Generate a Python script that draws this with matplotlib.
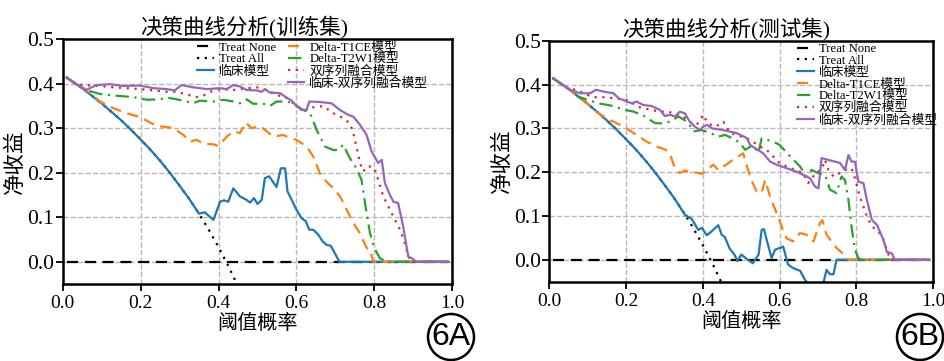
import matplotlib
matplotlib.use("Agg")
import matplotlib.pyplot as plt
from matplotlib.lines import Line2D
from matplotlib.patches import Ellipse

FONT = ['Liberation Serif', 'Noto Sans CJK SC']
plt.rcParams['font.family'] = FONT
plt.rcParams['axes.unicode_minus'] = False

# ---------------- data ----------------
# Treat All / Treat None (same for both panels)
all_x = [0.01, 0.03, 0.05, 0.075, 0.1, 0.125, 0.15, 0.175, 0.2, 0.225, 0.25,
         0.275, 0.3, 0.325, 0.35, 0.375, 0.4, 0.425, 0.45]
all_y = [0.414, 0.402, 0.390, 0.373, 0.356, 0.337, 0.318, 0.297, 0.275, 0.252,
         0.227, 0.200, 0.171, 0.141, 0.108, 0.072, 0.033, -0.009, -0.055]
none_x = [0.01, 0.99]
none_y = [0.0, 0.0]

# training set
tr_clin_x = [0.01, 0.03, 0.05, 0.075, 0.1, 0.125, 0.15, 0.175, 0.2, 0.225, 0.25, 0.275,
             0.3, 0.325, 0.35, 0.365, 0.387, 0.404, 0.414, 0.425, 0.438, 0.455, 0.472,
             0.481, 0.491, 0.50, 0.511, 0.519, 0.53, 0.541, 0.549, 0.56, 0.571, 0.577,
             0.588, 0.60, 0.613, 0.624, 0.633, 0.643, 0.656, 0.667, 0.677, 0.688, 0.695,
             0.703, 0.71, 0.99]
tr_clin_y = [0.414, 0.402, 0.390, 0.373, 0.356, 0.337, 0.318, 0.297, 0.275, 0.252, 0.227,
             0.200, 0.171, 0.141, 0.108, 0.111, 0.094, 0.135, 0.138, 0.135, 0.165, 0.147,
             0.139, 0.133, 0.143, 0.130, 0.139, 0.188, 0.192, 0.178, 0.168, 0.21, 0.21,
             0.158, 0.139, 0.117, 0.098, 0.091, 0.072, 0.072, 0.061, 0.046, 0.038, 0.036,
             0.025, 0.012, 0.0, 0.0]

tr_t1_x = [0.01, 0.03, 0.06, 0.096, 0.13, 0.164, 0.198, 0.216, 0.241, 0.275, 0.293, 0.31,
           0.327, 0.344, 0.361, 0.387, 0.40, 0.421, 0.438, 0.455, 0.47, 0.485, 0.506,
           0.524, 0.541, 0.566, 0.583, 0.60, 0.626, 0.643, 0.66, 0.677, 0.695, 0.712,
           0.729, 0.746, 0.763, 0.78, 0.789, 0.797, 0.99]
tr_t1_y = [0.414, 0.402, 0.386, 0.36, 0.345, 0.334, 0.325, 0.317, 0.305, 0.302, 0.295,
           0.285, 0.27, 0.274, 0.265, 0.264, 0.26, 0.281, 0.293, 0.289, 0.313, 0.30, 0.305,
           0.293, 0.281, 0.285, 0.278, 0.274, 0.259, 0.237, 0.199, 0.18, 0.165, 0.147,
           0.117, 0.087, 0.064, 0.031, 0.027, 0.0, 0.0]

tr_t2_x = [0.01, 0.03, 0.06, 0.096, 0.139, 0.181, 0.216, 0.25, 0.267, 0.293, 0.318, 0.335,
           0.352, 0.387, 0.413, 0.438, 0.455, 0.472, 0.489, 0.515, 0.532, 0.549, 0.575,
           0.592, 0.609, 0.635, 0.652, 0.673, 0.695, 0.707, 0.72, 0.737, 0.754, 0.767,
           0.78, 0.789, 0.80, 0.814, 0.832, 0.99]
tr_t2_y = [0.414, 0.402, 0.386, 0.377, 0.373, 0.37, 0.364, 0.365, 0.369, 0.365, 0.36,
           0.356, 0.362, 0.36, 0.364, 0.36, 0.356, 0.365, 0.355, 0.355, 0.35, 0.36, 0.36,
           0.356, 0.345, 0.334, 0.296, 0.259, 0.251, 0.251, 0.263, 0.233, 0.21, 0.184,
           0.109, 0.064, 0.031, 0.008, 0.0, 0.0]

tr_dual_x = [0.01, 0.03, 0.05, 0.096, 0.13, 0.164, 0.198, 0.233, 0.267, 0.293, 0.318,
             0.344, 0.361, 0.378, 0.404, 0.438, 0.472, 0.498, 0.524, 0.549, 0.575, 0.592,
             0.609, 0.626, 0.643, 0.66, 0.673, 0.686, 0.703, 0.72, 0.737, 0.746, 0.754,
             0.763, 0.772, 0.78, 0.789, 0.80, 0.81, 0.823, 0.84, 0.853, 0.866, 0.878,
             0.887, 0.896, 0.99]
tr_dual_y = [0.414, 0.402, 0.397, 0.395, 0.392, 0.39, 0.388, 0.385, 0.382, 0.382, 0.376,
             0.37, 0.373, 0.382, 0.388, 0.386, 0.39, 0.392, 0.386, 0.375, 0.368, 0.356,
             0.345, 0.341, 0.347, 0.349, 0.349, 0.338, 0.33, 0.323, 0.311, 0.289, 0.259,
             0.222, 0.203, 0.214, 0.214, 0.21, 0.184, 0.147, 0.117, 0.094, 0.072, 0.042,
             0.012, 0.0, 0.0]

tr_comb_x = [0.01, 0.03, 0.06, 0.087, 0.121, 0.156, 0.198, 0.233, 0.267, 0.288, 0.305,
             0.335, 0.37, 0.404, 0.421, 0.438, 0.455, 0.472, 0.498, 0.511, 0.519, 0.532,
             0.558, 0.571, 0.588, 0.60, 0.613, 0.626, 0.633, 0.66, 0.69, 0.712, 0.733,
             0.746, 0.763, 0.78, 0.793, 0.80, 0.81, 0.819, 0.827, 0.84, 0.849, 0.861,
             0.874, 0.887, 0.896, 0.908, 0.99]
tr_comb_y = [0.414, 0.402, 0.386, 0.397, 0.399, 0.395, 0.396, 0.39, 0.388, 0.385, 0.397,
             0.392, 0.388, 0.39, 0.388, 0.397, 0.394, 0.386, 0.385, 0.382, 0.388, 0.38,
             0.379, 0.371, 0.362, 0.35, 0.341, 0.341, 0.36, 0.359, 0.356, 0.341, 0.33,
             0.326, 0.308, 0.285, 0.248, 0.237, 0.222, 0.229, 0.177, 0.15, 0.135, 0.132,
             0.079, 0.012, 0.008, 0.0, 0.0]

# test set
te_clin_x = [0.01, 0.03, 0.05, 0.075, 0.1, 0.125, 0.15, 0.175, 0.2, 0.225, 0.25, 0.275,
             0.3, 0.325, 0.353, 0.371, 0.388, 0.397, 0.41, 0.423, 0.44, 0.449, 0.457,
             0.47, 0.482, 0.49, 0.50, 0.514, 0.53, 0.545, 0.553, 0.559, 0.566, 0.579,
             0.588, 0.609, 0.622, 0.635, 0.653, 0.666, 0.685, 0.70, 0.714, 0.722, 0.731,
             0.74, 0.748, 0.99]
te_clin_y = [0.414, 0.402, 0.390, 0.373, 0.356, 0.337, 0.318, 0.297, 0.275, 0.252, 0.227,
             0.200, 0.171, 0.141, 0.103, 0.093, 0.068, 0.073, 0.056, 0.065, 0.079, 0.057,
             0.052, 0.025, 0.012, -0.003, 0.012, 0.002, -0.008, 0.012, 0.068, 0.07, 0.046,
             0.004, 0.023, 0.03, -0.011, -0.019, -0.025, -0.046, -0.065, -0.065, -0.052,
             -0.023, -0.033, -0.033, 0.0, 0.0]

te_t1_x = [0.01, 0.03, 0.05, 0.075, 0.1, 0.125, 0.15, 0.175, 0.201, 0.227, 0.253, 0.28,
           0.301, 0.314, 0.327, 0.34, 0.353, 0.366, 0.384, 0.397, 0.41, 0.427, 0.44, 0.453,
           0.466, 0.479, 0.492, 0.505, 0.512, 0.527, 0.54, 0.553, 0.562, 0.575, 0.592,
           0.605, 0.618, 0.635, 0.653, 0.67, 0.688, 0.705, 0.711, 0.722, 0.748, 0.761,
           0.774, 0.78, 0.99]
te_t1_y = [0.414, 0.402, 0.390, 0.373, 0.355, 0.336, 0.322, 0.312, 0.30, 0.285, 0.27,
           0.258, 0.252, 0.242, 0.209, 0.198, 0.204, 0.199, 0.199, 0.196, 0.205, 0.217,
           0.205, 0.213, 0.22, 0.229, 0.236, 0.243, 0.22, 0.18, 0.156, 0.153, 0.182,
           0.144, 0.106, 0.076, 0.049, 0.042, 0.061, 0.057, 0.042, 0.084, 0.09, 0.057,
           0.027, 0.017, 0.004, 0.0, 0.0]

te_t2_x = [0.01, 0.03, 0.05, 0.076, 0.1, 0.128, 0.16, 0.197, 0.22, 0.249, 0.275, 0.301,
           0.32, 0.336, 0.35, 0.362, 0.375, 0.397, 0.418, 0.44, 0.458, 0.484, 0.497, 0.51,
           0.531, 0.544, 0.553, 0.583, 0.60, 0.627, 0.653, 0.67, 0.683, 0.70, 0.718, 0.731,
           0.748, 0.761, 0.77, 0.779, 0.787, 0.796, 0.805, 0.812, 0.99]
te_t2_y = [0.414, 0.402, 0.39, 0.372, 0.365, 0.357, 0.352, 0.342, 0.338, 0.327, 0.312,
           0.311, 0.318, 0.327, 0.32, 0.312, 0.293, 0.296, 0.29, 0.281, 0.285, 0.274,
           0.266, 0.251, 0.262, 0.243, 0.277, 0.27, 0.262, 0.236, 0.213, 0.19, 0.205,
           0.198, 0.194, 0.16, 0.152, 0.19, 0.182, 0.137, 0.076, 0.023, 0.004, 0.0, 0.0]

te_dual_x = [0.01, 0.03, 0.054, 0.071, 0.089, 0.115, 0.14, 0.167, 0.193, 0.21, 0.227,
             0.245, 0.266, 0.288, 0.31, 0.327, 0.349, 0.371, 0.384, 0.401, 0.41, 0.427,
             0.444, 0.453, 0.47, 0.497, 0.523, 0.549, 0.566, 0.60, 0.64, 0.661, 0.674,
             0.696, 0.709, 0.718, 0.727, 0.74, 0.757, 0.77, 0.787, 0.796, 0.809, 0.827,
             0.84, 0.857, 0.87, 0.879, 0.888, 0.99]
te_dual_y = [0.414, 0.402, 0.388, 0.389, 0.38, 0.371, 0.371, 0.369, 0.366, 0.363, 0.35,
             0.346, 0.342, 0.338, 0.338, 0.333, 0.327, 0.312, 0.308, 0.331, 0.315, 0.304,
             0.308, 0.315, 0.29, 0.282, 0.274, 0.258, 0.251, 0.22, 0.205, 0.198, 0.175,
             0.2, 0.205, 0.228, 0.205, 0.19, 0.198, 0.205, 0.209, 0.186, 0.144, 0.099,
             0.076, 0.065, 0.046, 0.023, 0.0, 0.0]

te_comb_x = [0.01, 0.03, 0.054, 0.08, 0.106, 0.122, 0.14, 0.167, 0.18, 0.197, 0.214, 0.227,
             0.245, 0.266, 0.288, 0.301, 0.314, 0.327, 0.34, 0.353, 0.366, 0.379, 0.392,
             0.401, 0.411, 0.423, 0.453, 0.488, 0.514, 0.523, 0.557, 0.575, 0.592, 0.644,
             0.679, 0.692, 0.701, 0.709, 0.757, 0.77, 0.779, 0.787, 0.796, 0.805, 0.818,
             0.827, 0.84, 0.853, 0.87, 0.879, 0.892, 0.90, 0.99]
te_comb_y = [0.414, 0.402, 0.388, 0.38, 0.38, 0.388, 0.384, 0.38, 0.369, 0.363, 0.357,
             0.361, 0.353, 0.351, 0.342, 0.328, 0.331, 0.327, 0.338, 0.334, 0.315, 0.304,
             0.296, 0.304, 0.308, 0.30, 0.296, 0.289, 0.278, 0.262, 0.243, 0.224, 0.217,
             0.201, 0.186, 0.167, 0.163, 0.232, 0.221, 0.205, 0.239, 0.224, 0.224, 0.178,
             0.175, 0.137, 0.091, 0.08, 0.046, 0.018, 0.015, 0.0, 0.0]

labels = ['Treat None', 'Treat All', '临床模型', 'Delta-T1CE模型', 'Delta-T2W1模型',
          '双序列融合模型', '临床-双序列融合模型']
titles = ['决策曲线分析(训练集)', '决策曲线分析(测试集)']
tags = ['6A', '6B']

styles = [dict(color='black', ls=(0, (5, 3))),
          dict(color='black', ls=(0, (1, 2.5))),
          dict(color='#1f77b4', ls='-'),
          dict(color='#ff7f0e', ls=(0, (5, 3))),
          dict(color='#2ca02c', ls=(0, (6, 2.5, 1, 2.5))),
          dict(color='#d62728', ls=(0, (1, 2.5))),
          dict(color='#9467bd', ls='-')]

panels = [
    [(none_x, none_y), (all_x, all_y), (tr_clin_x, tr_clin_y), (tr_t1_x, tr_t1_y),
     (tr_t2_x, tr_t2_y), (tr_dual_x, tr_dual_y), (tr_comb_x, tr_comb_y)],
    [(none_x, none_y), (all_x, all_y), (te_clin_x, te_clin_y), (te_t1_x, te_t1_y),
     (te_t2_x, te_t2_y), (te_dual_x, te_dual_y), (te_comb_x, te_comb_y)],
]

fig = plt.figure(figsize=(9.45, 3.61), dpi=100)
axes = [fig.add_axes([0.0663, 0.2133, 0.4123, 0.678]),
        fig.add_axes([0.5813, 0.2197, 0.4063, 0.6676])]
title_x = [0.465, 0.46]

leg_kw = dict(frameon=False, fontsize=9.2, handlelength=1.3, handletextpad=0.4,
              labelspacing=-0.02, borderpad=0, borderaxespad=0, loc='upper left')

for i, ax in enumerate(axes):
    handles = []
    for (x, y), st, lab in zip(panels[i], styles, labels):
        h, = ax.plot(x, y, lw=1.6, label=lab, **st)
        handles.append(h)
    ax.set_xlim(0, 1)
    ax.set_ylim(-0.05, 0.5)
    ax.set_xticks([0, 0.2, 0.4, 0.6, 0.8, 1.0])
    ax.set_yticks([0, 0.1, 0.2, 0.3, 0.4, 0.5])
    ax.set_xticklabels(['0.0', '0.2', '0.4', '0.6', '0.8', '1.0'])
    ax.set_yticklabels(['0.0', '0.1', '0.2', '0.3', '0.4', '0.5'])
    ax.tick_params(width=1.3, length=5, direction='out')
    ax.tick_params(axis='x', labelsize=14, pad=3)
    ax.tick_params(axis='y', labelsize=15.5, pad=1)
    ax.grid(True, ls='--', color='#b8b8b8', lw=1.0)
    ax.set_axisbelow(True)
    for sp in ax.spines.values():
        sp.set_linewidth(1.8)
    ax.set_title(titles[i], fontsize=15.5, x=title_x[i], pad=4)
    ax.set_xlabel('阈值概率', fontsize=14.5, labelpad=2)
    ax.set_ylabel('净收益', fontsize=15.5, labelpad=1)

    if i == 0:
        blank = Line2D([], [], color='none')
        hs = handles[:3] + [blank] + handles[3:]
        ls = labels[:3] + [''] + labels[3:]
        ax.legend(hs, ls, ncol=2, bbox_to_anchor=(0.345, 0.99), columnspacing=0.9,
                  **leg_kw)
    else:
        ax.legend(handles, labels, bbox_to_anchor=(0.645, 0.99), **leg_kw)

# circled panel tags
for cx, tag in zip([451 / 945, 920 / 945], tags):
    cy = 1 - 337 / 361
    fig.add_artist(Ellipse((cx, cy), 46 / 945, 46 / 361, transform=fig.transFigure,
                           fill=False, lw=1.8, color='black'))
    fig.text(cx, cy, tag, ha='center', va='center', fontsize=23,
             family='Liberation Sans')

fig.savefig('out.png', dpi=100)
